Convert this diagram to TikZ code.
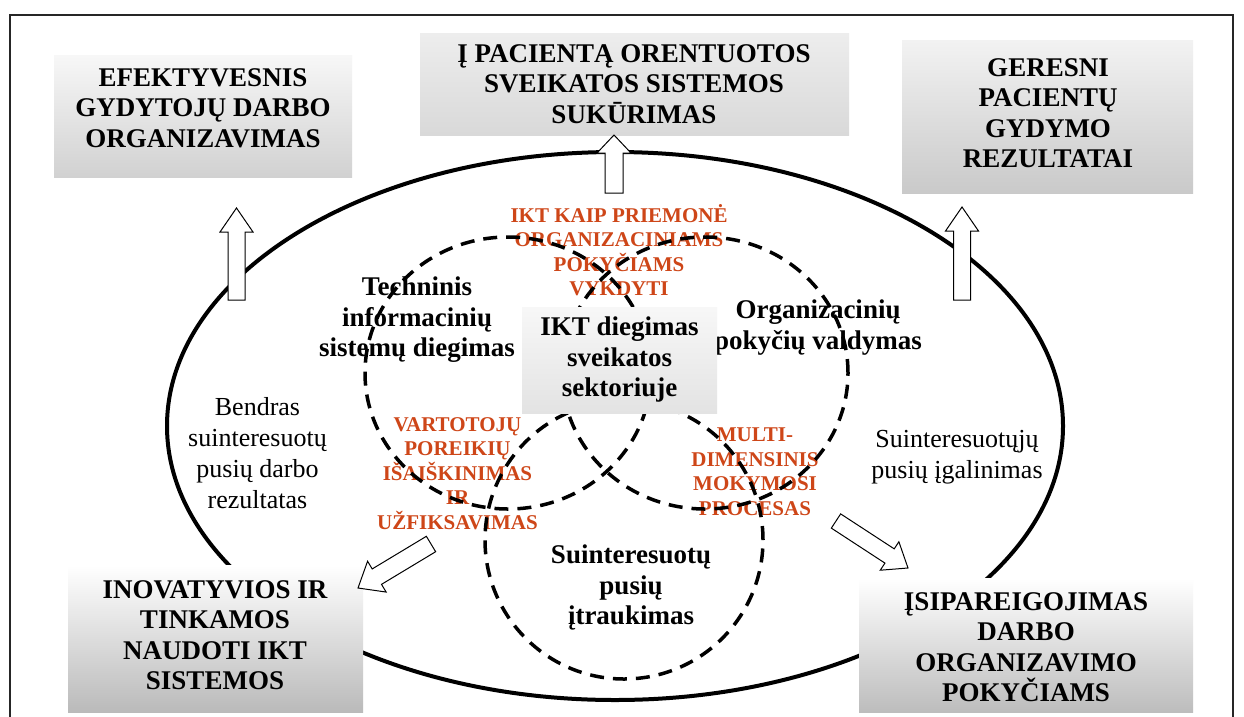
\documentclass[tikz,border=0pt]{standalone}
\usepackage{fontspec}
\setmainfont{Liberation Serif}
\usetikzlibrary{calc,shapes.geometric}
\definecolor{accentred}{RGB}{206,70,24}

% hollow block arrow from #1 (tail) to #2 (tip):
% #3 shaft half width, #4 head half width, #5 head length
\newcommand\blockarrow[5]{%
  \path let \p1=(#1), \p2=(#2),
        \n1={atan2(\y2-\y1,\x2-\x1)},
        \n2={veclen(\x2-\x1,\y2-\y1)} in
        \pgfextra{\xdef\barrowangle{\n1}\xdef\barrowlength{\n2}};
  \begin{scope}[shift={(#1)}, rotate=\barrowangle]
    \filldraw[blockarrow]
      (0,#3) -- ({\barrowlength-#5},#3) -- ({\barrowlength-#5},#4)
      -- (\barrowlength,0) -- ({\barrowlength-#5},-#4)
      -- ({\barrowlength-#5},-#3) -- (0,-#3) -- cycle;
  \end{scope}}

\begin{document}
\begin{tikzpicture}[x=1pt,y=-1pt,
  frame/.style={draw=black!85, line width=2pt},
  outerring/.style={ellipse, draw=black, line width=4pt, inner sep=0pt},
  venn/.style={ellipse, draw=black, line width=3.5pt, dash pattern=on 14pt off 9pt, inner sep=0pt},
  panel/.style={rectangle, inner sep=0pt, draw=none, shade},
  boxtext/.style={anchor=north, align=center, inner sep=0pt,
    font=\fontsize{27}{30.5}\selectfont\bfseries},
  plaintext/.style={anchor=north, align=center, inner sep=0pt,
    font=\fontsize{26}{31}\selectfont},
  redtext/.style={anchor=north, align=center, inner sep=0pt, text=accentred,
    font=\fontsize{21}{24.5}\selectfont\bfseries},
  blockarrow/.style={draw=black, fill=white, line width=1pt, line join=miter}]

\useasboundingbox (0,0) rectangle (1244,716);
\fill[white] (0,0) rectangle (1244,716);

% outer frame
\draw[frame] (10,15) rectangle (1233,740);

% large ring around the whole process
\node[outerring, minimum width=896, minimum height=548] (ring) at (615,426) {};

% outcome panels
\node[panel, top color=white!97!black, bottom color=black!18, minimum width=298, minimum height=122] (box1) at (203,116) {};
\node[panel, top color=black!7, bottom color=black!15, minimum width=429, minimum height=102] (box2) at (634.5,84) {};
\node[panel, top color=black!5, bottom color=black!21, minimum width=291, minimum height=153] (box3) at (1047.5,116.5) {};
\node[panel, top color=white, bottom color=black!27, minimum width=295, minimum height=147] (box4) at (215.5,638.5) {};
\node[panel, top color=white, bottom color=black!26, minimum width=334, minimum height=134] (box5) at (1026,645) {};

\node[boxtext] (box1text) at (203,68) {EFEKTYVESNIS\\GYDYTOJŲ DARBO\\ORGANIZAVIMAS};
\node[boxtext] (box2text) at (634,44) {Į PACIENTĄ ORENTUOTOS\\SVEIKATOS SISTEMOS\\SUKŪRIMAS};
\node[boxtext] (box3text) at (1048,58) {GERESNI\\PACIENTŲ\\GYDYMO\\REZULTATAI};
\node[boxtext] (box4text) at (215,580) {INOVATYVIOS IR\\TINKAMOS\\NAUDOTI IKT\\SISTEMOS};
\node[boxtext] (box5text) at (1026,592) {ĮSIPAREIGOJIMAS\\DARBO\\ORGANIZAVIMO\\POKYČIAMS};

% labels inside the ring
\node[plaintext] (bendras) at (257.5,397) {Bendras\\suinteresuotų\\pusių darbo\\rezultatas};
\node[plaintext] (igalinimas) at (957,430) {Suinteresuotųjų\\pusių įgalinimas};
\node[boxtext] (techninis) at (417,277) {Techninis\\informacinių\\sistemų diegimas};
\node[boxtext] (organizaciniu) at (818,300) {Organizacinių\\pokyčių valdymas};
\node[boxtext] (itraukimas) at (631,545) {Suinteresuotų\\pusių\\įtraukimas};

\node[redtext] (priemone) at (619,204) {IKT KAIP PRIEMONĖ\\ORGANIZACINIAMS\\POKYČIAMS\\VYKDYTI};
\node[redtext] (vartotoju) at (457.5,417) {VARTOTOJŲ\\POREIKIŲ\\IŠAIŠKINIMAS\\IR\\UŽFIKSAVIMAS};
\node[redtext] (multi) at (755,428) {MULTI-\\DIMENSINIS\\MOKYMOSI\\PROCESAS};

% three overlapping areas
\node[venn, minimum width=286, minimum height=272] (techcircle) at (508,373) {};
\node[venn, minimum width=286, minimum height=272] (orgcircle) at (705,373) {};
\node[venn, minimum width=278, minimum height=278] (stakecircle) at (624,540) {};

% core panel
\node[panel, top color=white!97!black, bottom color=black!11, minimum width=195, minimum height=106] (core) at (619.5,360) {};
\node[boxtext] (coretext) at (619.5,317) {IKT diegimas\\sveikatos\\sektoriuje};

% arrow end points
\coordinate (topTail) at (614,193);
\coordinate (topTip) at (614,135);
\coordinate (leftTail) at (236.5,300);
\coordinate (leftTip) at (236.5,208);
\coordinate (rightTail) at (962,300);
\coordinate (rightTip) at (962,207);
\coordinate (blTail) at (431,544);
\coordinate (blTip) at (358,588);
\coordinate (brTail) at (836,521);
\coordinate (brTip) at (908,568);

\blockarrow{topTail}{topTip}{9}{17}{18}
\blockarrow{leftTail}{leftTip}{8.5}{16.5}{24}
\blockarrow{rightTail}{rightTip}{8.5}{16.5}{24}
\blockarrow{blTail}{blTip}{9}{18}{22}
\blockarrow{brTail}{brTip}{8.5}{17}{22}

\end{tikzpicture}
\end{document}
